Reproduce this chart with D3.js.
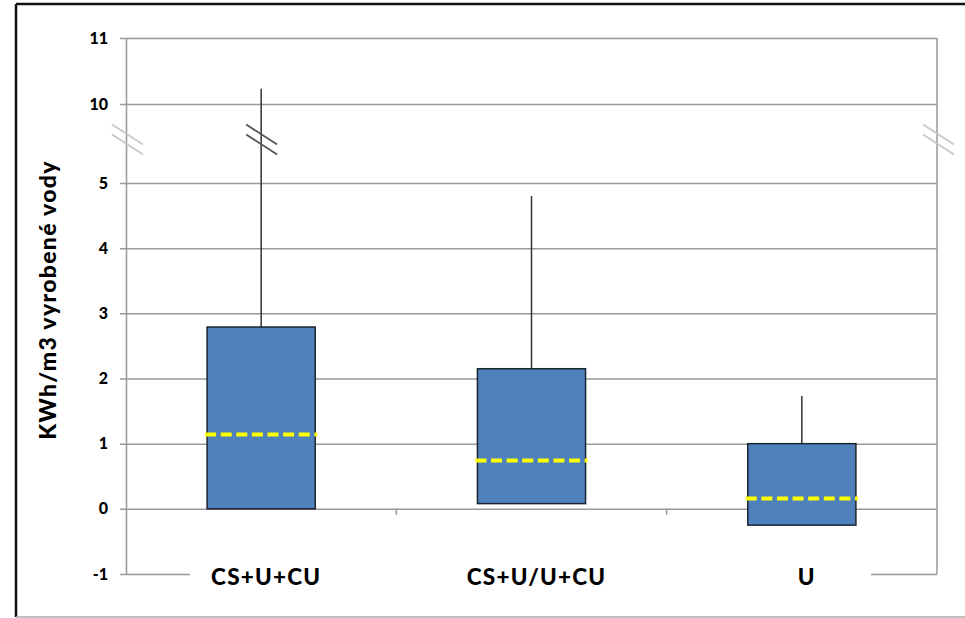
<!DOCTYPE html>
<html>
<head>
<meta charset="utf-8">
<script src="https://cdn.jsdelivr.net/npm/d3@7"></script>
<style>
  body { margin: 0; background: #fff; }
  svg { display: block; font-family: Lato, "Open Sans", sans-serif; }
</style>
</head>
<body>
<svg></svg>
<script>
// data
const categories = ["CS+U+CU", "CS+U/U+CU", "U"];
const whiskerLow = [0, 0.08, -0.25];
const q1 = [0, 0.08, -0.25];
const median = [1.14, 0.74, 0.16];
const q3 = [2.79, 2.15, 1.0];
const whiskerHigh = [10.23, 4.8, 1.73];
const yTicks = [-1, 0, 1, 2, 3, 4, 5, 10, 11];

const width = 965,
      height = 618,
      margin = { top: 38, right: 28, bottom: 44, left: 126 };

const plotR = width - margin.right;

// broken axis: -1..5 and 10..11 share one polylinear scale
const y = d3.scaleLinear()
      .domain([-1, 5, 10, 11])
      .range([574, 183, 104, 38]);

const x = d3.scaleBand()
      .domain(categories)
      .range([margin.left, plotR])
      .padding(0);

const boxW = x.bandwidth() * 0.4;

const svg = d3.select("svg")
      .attr("width", width)
      .attr("height", height)
      .attr("viewBox", [0, 0, width, height]);

// outer frame
svg.append("line").attr("x1", 16).attr("x2", width).attr("y1", 4).attr("y2", 4)
    .attr("stroke", "#111").attr("stroke-width", 2.5);
svg.append("line").attr("x1", 16).attr("x2", 16).attr("y1", 4).attr("y2", 617)
    .attr("stroke", "#111").attr("stroke-width", 2.5);
svg.append("line").attr("x1", 16).attr("x2", width).attr("y1", 617).attr("y2", 617)
    .attr("stroke", "#aaa").attr("stroke-width", 1.5);

// grid + y axis
const yAxis = d3.axisLeft(y).tickValues(yTicks).tickSizeOuter(0)
      .tickFormat(d => String(d));
svg.append("g")
    .attr("transform", `translate(${margin.left},0)`)
    .call(yAxis)
    .call(g => g.select(".domain").attr("stroke", "#999").attr("stroke-width", 1.5))
    .call(g => g.selectAll(".tick line")
        .attr("x1", -6).attr("x2", plotR - margin.left)
        .attr("stroke", "#999").attr("stroke-width", 1.5))
    .call(g => g.selectAll(".tick text")
        .attr("x", -18)
        .attr("fill", "#000")
        .attr("font-size", 16)
        .attr("font-weight", 900)
        .attr("font-family", "Lato, sans-serif"));

// right edge of plot
svg.append("line")
    .attr("x1", plotR).attr("x2", plotR)
    .attr("y1", y(11)).attr("y2", y(-1))
    .attr("stroke", "#999").attr("stroke-width", 1.5);

// category boundary ticks on the zero line
svg.append("g")
    .selectAll("line")
    .data(categories.slice(1))
    .join("line")
    .attr("x1", d => x(d)).attr("x2", d => x(d))
    .attr("y1", y(0)).attr("y2", y(0) + 6)
    .attr("stroke", "#999").attr("stroke-width", 1.5);

// white band behind category labels hides the -1 grid line
svg.append("rect")
    .attr("x", 190).attr("y", y(-1) - 8)
    .attr("width", 871 - 190).attr("height", 30)
    .attr("fill", "#fff");

// category labels
svg.append("g")
    .selectAll("text")
    .data(categories)
    .join("text")
    .attr("x", d => x(d) + x.bandwidth() / 2 + 5)
    .attr("y", 585)
    .attr("text-anchor", "middle")
    .attr("font-size", 22.5)
    .attr("letter-spacing", 1.2)
    .attr("font-weight", 900)
    .text(d => d);

// y title
svg.append("text")
    .attr("transform", "translate(56,300) rotate(-90)")
    .attr("text-anchor", "middle")
    .attr("font-size", 23)
    .attr("letter-spacing", 1.3)
    .attr("font-weight", 900)
    .text("KWh/m3 vyrobené vody");

const rows = categories.map((c, i) => ({
    c, lo: whiskerLow[i], q1: q1[i], med: median[i], q3: q3[i], hi: whiskerHigh[i]
}));

const cx = d => x(d.c) + x.bandwidth() / 2;

// whiskers
svg.append("g")
    .selectAll("line")
    .data(rows)
    .join("line")
    .attr("x1", cx).attr("x2", cx)
    .attr("y1", d => y(d.hi)).attr("y2", d => y(d.q3))
    .attr("stroke", "#333").attr("stroke-width", 1.5);

svg.append("g")
    .selectAll("line")
    .data(rows.filter(d => d.lo < d.q1))
    .join("line")
    .attr("x1", cx).attr("x2", cx)
    .attr("y1", d => y(d.lo)).attr("y2", d => y(d.q1))
    .attr("stroke", "#333").attr("stroke-width", 1.5);

// boxes
svg.append("g")
    .selectAll("rect")
    .data(rows)
    .join("rect")
    .attr("x", d => cx(d) - boxW / 2)
    .attr("y", d => y(d.q3))
    .attr("width", boxW)
    .attr("height", d => y(d.q1) - y(d.q3))
    .attr("fill", "#4f81bd")
    .attr("stroke", "#1c2430")
    .attr("stroke-width", 1.5);

// medians
svg.append("g")
    .selectAll("line")
    .data(rows)
    .join("line")
    .attr("x1", d => cx(d) - boxW / 2 - 2)
    .attr("x2", d => cx(d) + boxW / 2 + 2)
    .attr("y1", d => y(d.med)).attr("y2", d => y(d.med))
    .attr("stroke", "#ffff00")
    .attr("stroke-width", 4)
    .attr("stroke-dasharray", "11,4.6");

// break marks
const breakY = (y(5) + y(10)) / 2 - 4;
function breakMark(px, color) {
    [-5, 5].forEach(off => {
        svg.append("line")
            .attr("x1", px - 15).attr("y1", breakY + off - 10)
            .attr("x2", px + 16).attr("y2", breakY + off + 10)
            .attr("stroke", color).attr("stroke-width", 1.8);
    });
}
breakMark(margin.left + 1, "#c8c8c8");
breakMark(plotR + 1, "#c8c8c8");
breakMark(cx(rows[0]), "#555");
</script>
</body>
</html>
